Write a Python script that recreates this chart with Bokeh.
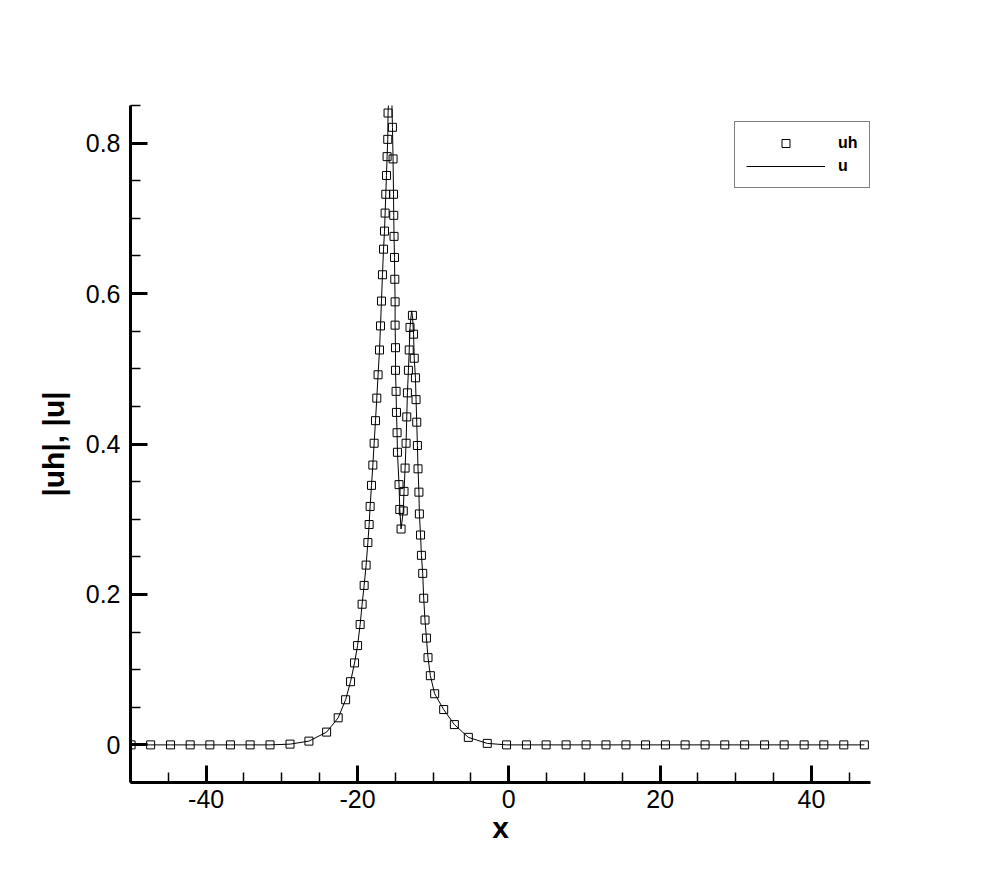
from bokeh.plotting import figure
from bokeh.models import Range1d, FixedTicker, CustomJSTickFormatter, Legend, LegendItem, ColumnDataSource
from bokeh.embed import file_html
from bokeh.resources import INLINE

# ---- data ----
uh_x = [-49.92, -47.34, -44.71, -42.11, -39.51, -36.79, -34.19, -31.56, -28.92, -26.42,
        -24.08, -22.55, -21.57, -20.92, -20.39, -19.99, -19.65, -19.39, -19.12, -18.86,
        -18.63, -18.46, -18.33, -18.15, -17.97, -17.80, -17.62, -17.45, -17.28, -17.09,
        -16.96, -16.83, -16.70, -16.56, -16.43, -16.35, -16.26, -16.17, -16.09, -16.00,
        -15.96,
        -15.38, -15.30, -15.24, -15.21, -15.17, -15.11, -15.07, -15.03, -15.03, -14.98,
        -14.98, -14.90, -14.85, -14.77, -14.72, -14.51, -14.41, -14.24,
        -13.95, -13.85, -13.71, -13.58, -13.49, -13.40, -13.27, -13.16, -13.06, -12.74,
        -12.59, -12.50, -12.34, -12.26, -12.17, -12.08, -12.00, -11.88, -11.82, -11.67,
        -11.55, -11.38, -11.25, -11.08, -10.89, -10.68, -10.37, -9.80, -8.61, -7.20,
        -5.35, -2.85, -0.30, 2.33, 4.93, 7.57, 10.21, 12.84, 15.48, 18.07,
        20.70, 23.30, 25.94, 28.54, 31.17, 33.80, 36.39, 39.03, 41.63, 44.27, 46.99]
uh_y = [0.000, 0.000, 0.000, 0.000, 0.000, 0.000, 0.000, 0.000, 0.001, 0.005,
        0.017, 0.036, 0.060, 0.084, 0.109, 0.132, 0.160, 0.187, 0.212, 0.239,
        0.269, 0.293, 0.317, 0.345, 0.372, 0.401, 0.431, 0.461, 0.492, 0.525,
        0.557, 0.590, 0.625, 0.659, 0.683, 0.707, 0.732, 0.757, 0.782, 0.805,
        0.840,
        0.821, 0.779, 0.732, 0.704, 0.676, 0.648, 0.619, 0.589, 0.558, 0.528,
        0.498, 0.470, 0.442, 0.415, 0.389, 0.346, 0.313, 0.287,
        0.311, 0.337, 0.368, 0.401, 0.436, 0.468, 0.498, 0.525, 0.555, 0.571,
        0.546, 0.514, 0.488, 0.459, 0.429, 0.398, 0.367, 0.336, 0.307, 0.279,
        0.252, 0.228, 0.195, 0.166, 0.142, 0.116, 0.092, 0.068, 0.047, 0.027,
        0.010, 0.002, 0.000, 0.000, 0.000, 0.000, 0.000, 0.000, 0.000, 0.000,
        0.000, 0.000, 0.000, 0.000, 0.000, 0.000, 0.000, 0.000, 0.000, 0.000, 0.000]

# exact solution u: same path, plus its two crests (the first one runs off the top)
u_crest_x = [-15.60, -12.85]
u_crest_y = [0.92, 0.577]
u_x = uh_x[:41] + [u_crest_x[0]] + uh_x[41:68] + [u_crest_x[1]] + uh_x[68:]
u_y = uh_y[:41] + [u_crest_y[0]] + uh_y[41:68] + [u_crest_y[1]] + uh_y[68:]

x_major = [-40, -20, 0, 20, 40]
x_minor = [-45, -35, -30, -25, -15, -10, -5, 5, 10, 15, 25, 30, 35, 45]
y_major = [0.0, 0.2, 0.4, 0.6, 0.8]
y_minor = [-0.05, 0.05, 0.1, 0.15, 0.25, 0.3, 0.35, 0.45, 0.5, 0.55, 0.65, 0.7, 0.75, 0.85]

FONT = "Liberation Sans"

p = figure(frame_width=740, frame_height=677,
           min_border_left=130, min_border_right=110, min_border_top=105, min_border_bottom=88,
           x_range=Range1d(-50, 47.8), y_range=Range1d(-0.05, 0.85),
           output_backend="svg", toolbar_location=None,
           x_axis_label="x", y_axis_label="|uh|, |u|")
p.xgrid.visible = False
p.ygrid.visible = False
p.outline_line_color = None
p.background_fill_color = "white"
p.border_fill_color = "white"

p.xaxis.ticker = FixedTicker(ticks=x_major, minor_ticks=x_minor)
p.yaxis.ticker = FixedTicker(ticks=y_major, minor_ticks=y_minor)
p.xaxis.formatter = CustomJSTickFormatter(code="return tick.toFixed(0);")
p.yaxis.formatter = CustomJSTickFormatter(code="return Math.abs(tick) < 1e-9 ? '0' : tick.toFixed(1);")

for ax in (p.xaxis[0], p.yaxis[0]):
    ax.axis_line_width = 3
    ax.axis_line_color = "black"
    ax.major_tick_in = 17
    ax.major_tick_out = 0
    ax.major_tick_line_width = 3
    ax.major_tick_line_color = "black"
    ax.minor_tick_in = 10
    ax.minor_tick_out = 0
    ax.minor_tick_line_width = 1.5
    ax.minor_tick_line_color = "black"
    ax.major_label_text_font = FONT
    ax.major_label_text_font_size = "25px"
    ax.major_label_text_color = "black"
    ax.axis_label_text_font = FONT
    ax.axis_label_text_font_style = "bold"
    ax.axis_label_text_font_size = "30px"
    ax.axis_label_text_color = "black"

p.xaxis.major_label_standoff = 7
p.xaxis.axis_label_standoff = 0
p.yaxis.major_label_standoff = 10
p.yaxis.axis_label_standoff = 13

src_u = ColumnDataSource(dict(x=u_x, y=u_y))
src_uh = ColumnDataSource(dict(x=uh_x, y=uh_y))

r_u = p.line("x", "y", source=src_u, line_color="black", line_width=1)
r_uh = p.scatter("x", "y", source=src_uh, marker="square", size=8,
                 fill_color=None, line_color="black", line_width=1)

legend = Legend(items=[LegendItem(label="uh", renderers=[r_uh]),
                       LegendItem(label="u", renderers=[r_u])],
                location=(604, 594), glyph_width=79, glyph_height=20,
                label_height=20, label_width=20, label_standoff=13, spacing=3,
                padding=11, margin=0,
                border_line_color="black", border_line_width=1,
                background_fill_color="white", background_fill_alpha=1,
                label_text_font=FONT, label_text_font_style="bold",
                label_text_font_size="16px", label_text_color="black")
p.add_layout(legend)

open("out.html", "w").write(file_html(p, INLINE))
